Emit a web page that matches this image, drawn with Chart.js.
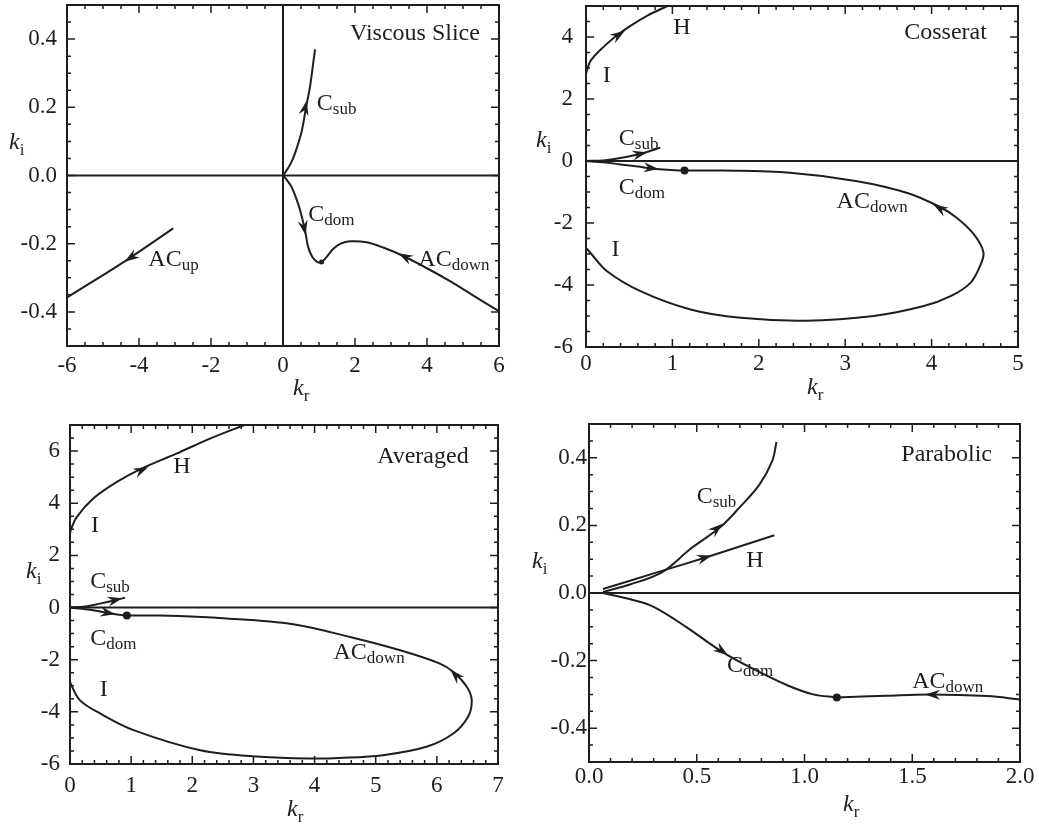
<!DOCTYPE html>
<html>
<head>
<meta charset="utf-8">
<script src="https://cdn.jsdelivr.net/npm/chart.js@4.4.1/dist/chart.umd.min.js"></script>
<style>
  html, body { margin: 0; padding: 0; background: #fff; }
  #wrap { position: relative; width: 1039px; height: 825px; }
  canvas { position: absolute; }
</style>
</head>
<body>
<div id="wrap">
  <canvas id="viscous" width="520" height="410" style="left:0;top:0"></canvas>
  <canvas id="cosserat" width="519" height="410" style="left:520px;top:0"></canvas>
  <canvas id="averaged" width="520" height="415" style="left:0;top:410px"></canvas>
  <canvas id="parabolic" width="519" height="415" style="left:520px;top:410px"></canvas>
</div>
<script>
// --- data: [kr, ki] pairs ---
const viscousCsub = [[0,0],[0.10,0.015],[0.21,0.034],[0.33,0.064],[0.52,0.13],[0.64,0.20],[0.75,0.26],[0.84,0.33],[0.89,0.37]];
const viscousCdom = [[0,0],[0.10,-0.012],[0.24,-0.034],[0.36,-0.065],[0.47,-0.10],[0.61,-0.16],[0.70,-0.21],[0.82,-0.24],[0.95,-0.253],[1.07,-0.254],[1.2,-0.24],[1.40,-0.215],[1.6,-0.2],[1.86,-0.193],[2.33,-0.196],[2.8,-0.212],[3.34,-0.236],[4.0,-0.272],[4.64,-0.31],[5.3,-0.353],[6,-0.398]];
const viscousACup = [[-3.05,-0.155],[-4.3,-0.245],[-6,-0.358]];
const viscousDot = [[1.07,-0.254]];

const cosseratH = [[0,2.8],[0.01,2.92],[0.05,3.22],[0.15,3.54],[0.32,3.97],[0.51,4.35],[0.71,4.69],[0.94,5.0]];
const cosseratCsub = [[0,0],[0.2,0.02],[0.4,0.1],[0.67,0.26],[0.86,0.43]];
const cosseratCdom = [[0,0],[0.2,-0.04],[0.4,-0.11],[0.6,-0.18],[0.78,-0.25],[0.98,-0.29],[1.14,-0.31]];
const cosseratACdown = [[1.14,-0.31],[1.59,-0.31],[2.36,-0.38],[3.14,-0.65],[3.72,-1.03],[4.08,-1.46],[4.29,-1.83],[4.49,-2.37],[4.6,-2.95],[4.56,-3.39],[4.45,-3.93],[4.22,-4.36],[3.91,-4.68],[3.33,-5.0],[2.54,-5.15],[1.79,-5.06],[1.21,-4.79],[0.63,-4.2],[0.24,-3.55],[0.05,-2.96],[0,-2.8]];
const cosseratDot = [[1.14,-0.31]];

const averagedH = [[0,2.8],[0.01,2.95],[0.11,3.47],[0.38,4.18],[0.76,4.81],[1.17,5.33],[1.74,5.9],[2.29,6.48],[2.85,7.0]];
const averagedCsub = [[0,0],[0.25,0.04],[0.49,0.15],[0.72,0.27],[0.9,0.38]];
const averagedCdom = [[0,0],[0.2,-0.05],[0.38,-0.1],[0.65,-0.22],[0.8,-0.28],[0.93,-0.31]];
const averagedACdown = [[0.93,-0.31],[1.47,-0.31],[2.56,-0.42],[3.65,-0.64],[4.58,-1.13],[5.4,-1.64],[6.05,-2.15],[6.27,-2.47],[6.49,-3.04],[6.57,-3.55],[6.51,-4.19],[6.27,-4.83],[5.83,-5.34],[5.12,-5.66],[4.4,-5.77],[3.98,-5.79],[3.11,-5.72],[2.13,-5.47],[1.04,-4.7],[0.49,-4.06],[0.16,-3.55],[0.01,-2.91],[0,-2.8]];
const averagedDot = [[0.93,-0.31]];

const parabolicCsub = [[0.065,0.003],[0.19,0.025],[0.34,0.062],[0.47,0.13],[0.61,0.195],[0.70,0.254],[0.79,0.32],[0.85,0.39],[0.87,0.447]];
const parabolicH = [[0.065,0.012],[0.3,0.058],[0.545,0.106],[0.86,0.171]];
const parabolicCdom = [[0.065,0],[0.2,-0.02],[0.30,-0.041],[0.45,-0.10],[0.62,-0.175],[0.76,-0.224],[0.92,-0.273],[1.04,-0.30],[1.15,-0.309]];
const parabolicACdown = [[1.15,-0.309],[1.38,-0.304],[1.58,-0.30],[1.85,-0.305],[2.0,-0.315]];
const parabolicDot = [[1.15,-0.309]];

// tick values
const viscousXTicks = [-6, -4, -2, 0, 2, 4, 6];
const viscousYTicks = [-0.4, -0.2, 0, 0.2, 0.4];
const cosseratXTicks = [0, 1, 2, 3, 4, 5];
const cosseratYTicks = [-6, -4, -2, 0, 2, 4];
const averagedXTicks = [0, 1, 2, 3, 4, 5, 6, 7];
const averagedYTicks = [-6, -4, -2, 0, 2, 4, 6];
const parabolicXTicks = [0, 0.5, 1, 1.5, 2];
const parabolicYTicks = [-0.4, -0.2, 0, 0.2, 0.4];

const INK = '#1e1e1e';
const SERIF = "'Liberation Serif', 'Times New Roman', serif";
Chart.defaults.font.family = SERIF;
Chart.defaults.color = INK;

function arrowHead(ctx, tip, from) {
  const dx = tip.x - from.x, dy = tip.y - from.y;
  const len = Math.hypot(dx, dy) || 1;
  const ux = dx / len, uy = dy / len, nx = -uy, ny = ux;
  const L = 15, W = 5, N = 10;
  ctx.beginPath();
  ctx.moveTo(tip.x, tip.y);
  ctx.lineTo(tip.x - L * ux + W * nx, tip.y - L * uy + W * ny);
  ctx.lineTo(tip.x - N * ux, tip.y - N * uy);
  ctx.lineTo(tip.x - L * ux - W * nx, tip.y - L * uy - W * ny);
  ctx.closePath();
  ctx.fill();
}

function subText(ctx, main, sub, x, y, align, italic) {
  ctx.font = (italic ? 'italic ' : '') + '24px ' + SERIF;
  const w1 = ctx.measureText(main).width;
  ctx.font = '17px ' + SERIF;
  const w2 = sub ? ctx.measureText(sub).width : 0;
  let x0 = x;
  if (align === 'right') x0 = x - w1 - w2;
  if (align === 'center') x0 = x - (w1 + w2) / 2;
  ctx.textAlign = 'left';
  ctx.font = (italic ? 'italic ' : '') + '24px ' + SERIF;
  ctx.fillText(main, x0, y);
  if (sub) {
    ctx.font = '17px ' + SERIF;
    ctx.fillText(sub, x0 + w1, y + 6);
  }
}

// frame, inward ticks, zero lines, arrows and labels
const decoPlugin = {
  id: 'deco',
  beforeDatasetsDraw(chart, args, o) {
    const { ctx, chartArea: a, scales: { x, y } } = chart;
    ctx.save();
    ctx.strokeStyle = INK;
    ctx.lineWidth = 2;
    ctx.beginPath();
    const y0 = y.getPixelForValue(0);
    ctx.moveTo(a.left, y0); ctx.lineTo(a.right, y0);
    if (o.xZero) {
      const x0 = x.getPixelForValue(0);
      ctx.moveTo(x0, a.top); ctx.lineTo(x0, a.bottom);
    }
    ctx.stroke();
    ctx.restore();
  },
  afterDatasetsDraw(chart, args, o) {
    const { ctx, chartArea: a, scales: { x, y } } = chart;
    ctx.save();
    ctx.strokeStyle = INK;
    ctx.fillStyle = INK;
    ctx.lineWidth = 2;
    ctx.strokeRect(a.left, a.top, a.right - a.left, a.bottom - a.top);

    ctx.lineWidth = 1.5;
    ctx.beginPath();
    const isMajor = (scale, v) => scale.ticks.some(t => Math.abs(t.value - v) < 1e-6);
    const nx = Math.round((x.max - x.min) / o.xMinor);
    for (let i = 0; i <= nx; i++) {
      const v = x.min + i * o.xMinor;
      const px = x.getPixelForValue(v);
      const len = isMajor(x, v) ? 8 : 4;
      ctx.moveTo(px, a.bottom); ctx.lineTo(px, a.bottom - len);
      ctx.moveTo(px, a.top); ctx.lineTo(px, a.top + len);
    }
    const ny = Math.round((y.max - y.min) / o.yMinor);
    for (let i = 0; i <= ny; i++) {
      const v = y.min + i * o.yMinor;
      const py = y.getPixelForValue(v);
      const len = isMajor(y, v) ? 8 : 4;
      ctx.moveTo(a.left, py); ctx.lineTo(a.left + len, py);
      ctx.moveTo(a.right, py); ctx.lineTo(a.right - len, py);
    }
    ctx.stroke();

    const P = p => ({ x: x.getPixelForValue(p[0]), y: y.getPixelForValue(p[1]) });
    o.arrows.forEach(ar => arrowHead(ctx, P(ar.tip), P(ar.from)));

    ctx.textBaseline = 'middle';
    o.labels.forEach(l => {
      const p = P(l.at);
      subText(ctx, l.t, l.s, p.x, p.y, l.align || 'left', false);
    });

    ctx.textBaseline = 'alphabetic';
    subText(ctx, 'k', 'i', o.kiAt[0], o.kiAt[1], 'left', true);
    subText(ctx, 'k', 'r', o.krAt[0], o.krAt[1], 'left', true);
    ctx.restore();
  }
};

function series(points, extra) {
  return Object.assign({
    data: points.map(p => ({ x: p[0], y: p[1] })),
    showLine: true,
    borderColor: INK,
    borderWidth: 2,
    pointRadius: 0,
    tension: 0.35,
    fill: false
  }, extra || {});
}

function dot(points, r) {
  return {
    data: points.map(p => ({ x: p[0], y: p[1] })),
    showLine: false,
    pointRadius: r,
    pointBackgroundColor: INK,
    pointBorderWidth: 0
  };
}

function makePanel(id, p) {
  const fix = (size, key) => scale => {
    scale[key] = size;
    scale.paddingTop = 0; scale.paddingBottom = 0;
    scale.paddingLeft = 0; scale.paddingRight = 0;
  };
  const useTicks = values => scale => { scale.ticks = values.map(v => ({ value: v })); };
  const fmt = dec => v => (Math.abs(v) < 1e-9 ? 0 : v).toFixed(dec);
  new Chart(document.getElementById(id), {
    type: 'scatter',
    data: { datasets: p.datasets },
    options: {
      responsive: false,
      animation: false,
      layout: { padding: p.pad },
      plugins: { legend: { display: false }, tooltip: { enabled: false }, deco: p.deco },
      scales: {
        x: {
          type: 'linear', min: p.x[0], max: p.x[1],
          afterBuildTicks: useTicks(p.xTicks),
          afterFit: fix(p.xh, 'height'),
          grid: { display: false, drawTicks: false },
          border: { display: false },
          ticks: {
            autoSkip: false, maxRotation: 0,
            padding: p.xPad, font: { size: 23 }, color: INK,
            callback: fmt(p.x[2])
          }
        },
        y: {
          type: 'linear', min: p.y[0], max: p.y[1],
          afterBuildTicks: useTicks(p.yTicks),
          afterFit: fix(p.yw, 'width'),
          grid: { display: false, drawTicks: false },
          border: { display: false },
          ticks: {
            autoSkip: false,
            padding: p.yPad, font: { size: 23 }, color: INK,
            callback: fmt(p.y[2])
          }
        }
      }
    },
    plugins: [decoPlugin]
  });
}

makePanel('viscous', {
  x: [-6, 6, 0], y: [-0.5, 0.5, 1],
  xTicks: viscousXTicks, yTicks: viscousYTicks,
  pad: { left: 0, top: 5, right: 21, bottom: 0 }, xh: 64, yw: 67, xPad: 6, yPad: 10,
  datasets: [series(viscousCsub), series(viscousCdom), series(viscousACup), dot(viscousDot, 2.5)],
  deco: {
    xZero: true, xMinor: 0.5, yMinor: 0.05,
    kiAt: [9, 149], krAt: [293, 395],
    arrows: [
      { tip: [0.66, 0.22], from: [0.57, 0.176] },
      { tip: [0.63, -0.175], from: [0.5, -0.11] },
      { tip: [-4.4, -0.253], from: [-3.05, -0.155] },
      { tip: [3.2, -0.228], from: [3.9, -0.266] }
    ],
    labels: [
      { t: 'Viscous Slice', at: [5.47, 0.416], align: 'right' },
      { t: 'C', s: 'sub', at: [0.94, 0.21] },
      { t: 'C', s: 'dom', at: [0.70, -0.115] },
      { t: 'AC', s: 'up', at: [-3.74, -0.247] },
      { t: 'AC', s: 'down', at: [3.76, -0.247] }
    ]
  }
});

makePanel('cosserat', {
  x: [0, 5, 0], y: [-6, 5, 0],
  xTicks: cosseratXTicks, yTicks: cosseratYTicks,
  pad: { left: 0, top: 6, right: 21, bottom: 0 }, xh: 63, yw: 66, xPad: 3, yPad: 13,
  datasets: [series(cosseratH), series(cosseratCsub), series(cosseratCdom), series(cosseratACdown), dot(cosseratDot, 4)],
  deco: {
    xZero: false, xMinor: 0.2, yMinor: 0.5,
    kiAt: [16, 147], krAt: [287, 394],
    arrows: [
      { tip: [0.45, 4.2], from: [0.3, 3.93] },
      { tip: [0.71, 0.28], from: [0.45, 0.12] },
      { tip: [0.84, -0.26], from: [0.5, -0.15] },
      { tip: [4.02, -1.40], from: [4.35, -1.95] }
    ],
    labels: [
      { t: 'Cosserat', at: [4.64, 4.14], align: 'right' },
      { t: 'H', at: [1.01, 4.30] },
      { t: 'I', at: [0.24, 2.74], align: 'center' },
      { t: 'I', at: [0.34, -2.85], align: 'center' },
      { t: 'C', s: 'sub', at: [0.38, 0.72] },
      { t: 'C', s: 'dom', at: [0.38, -0.86] },
      { t: 'AC', s: 'down', at: [2.90, -1.32] }
    ]
  }
});

makePanel('averaged', {
  x: [0, 7, 0], y: [-6, 7, 0],
  xTicks: averagedXTicks, yTicks: averagedYTicks,
  pad: { left: 0, top: 15, right: 22, bottom: 0 }, xh: 61, yw: 70, xPad: 8, yPad: 10,
  datasets: [series(averagedH), series(averagedCsub), series(averagedCdom), series(averagedACdown), dot(averagedDot, 4)],
  deco: {
    xZero: false, xMinor: 0.2, yMinor: 0.5,
    kiAt: [26, 168], krAt: [287, 406],
    arrows: [
      { tip: [1.28, 5.39], from: [0.9, 4.98] },
      { tip: [0.86, 0.36], from: [0.6, 0.22] },
      { tip: [0.74, -0.26], from: [0.45, -0.13] },
      { tip: [6.22, -2.38], from: [6.49, -3.04] }
    ],
    labels: [
      { t: 'Averaged', at: [6.52, 5.77], align: 'right' },
      { t: 'H', at: [1.69, 5.39] },
      { t: 'I', at: [0.41, 3.15], align: 'center' },
      { t: 'I', at: [0.55, -3.17], align: 'center' },
      { t: 'C', s: 'sub', at: [0.33, 0.98] },
      { t: 'C', s: 'dom', at: [0.33, -1.19] },
      { t: 'AC', s: 'down', at: [4.31, -1.73] }
    ]
  }
});

makePanel('parabolic', {
  x: [0, 2, 1], y: [-0.5, 0.5, 1],
  xTicks: parabolicXTicks, yTicks: parabolicYTicks,
  pad: { left: 0, top: 14, right: 19, bottom: 0 }, xh: 63, yw: 69, xPad: 1, yPad: 2,
  datasets: [series(parabolicCsub), series(parabolicH), series(parabolicCdom), series(parabolicACdown), dot(parabolicDot, 4)],
  deco: {
    xZero: false, xMinor: 0.1, yMinor: 0.05,
    kiAt: [12, 158], krAt: [323, 401],
    arrows: [
      { tip: [0.62, 0.205], from: [0.5, 0.14] },
      { tip: [0.57, 0.111], from: [0.4, 0.078] },
      { tip: [0.645, -0.184], from: [0.5, -0.12] },
      { tip: [1.56, -0.3], from: [1.8, -0.303] }
    ],
    labels: [
      { t: 'Parabolic', at: [1.87, 0.41], align: 'right' },
      { t: 'C', s: 'sub', at: [0.50, 0.284] },
      { t: 'H', at: [0.73, 0.097] },
      { t: 'C', s: 'dom', at: [0.64, -0.216] },
      { t: 'AC', s: 'down', at: [1.50, -0.263] }
    ]
  }
});
</script>
</body>
</html>
